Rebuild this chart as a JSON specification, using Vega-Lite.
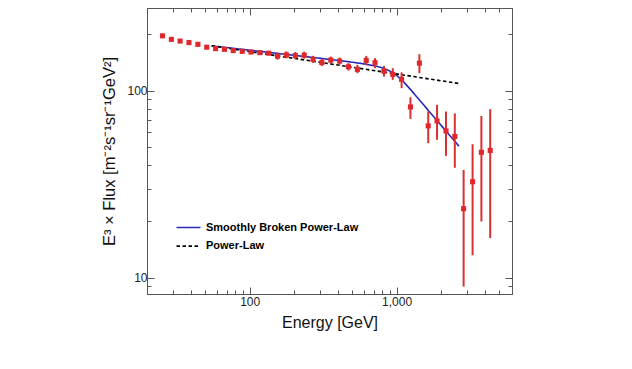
{
  "$schema": "https://vega.github.io/schema/vega-lite/v6.json",
  "width": 365,
  "height": 286,
  "autosize": "none",
  "padding": {"left": 147, "top": 8, "right": 120, "bottom": 75},
  "background": "white",
  "config": {
    "view": {"stroke": "#555555", "strokeWidth": 1},
    "font": "Liberation Sans",
    "axis": {"domainColor": "#555555", "tickColor": "#555555", "labelColor": "#222222", "titleColor": "#111111", "labelFont": "Liberation Sans", "titleFont": "Liberation Sans", "labelFontSize": 12, "titleFontSize": 16, "titleFontWeight": "normal", "grid": false, "labelOverlap": false, "labelBound": false, "labelFlush": false},
    "legend": {"padding": 0, "symbolType": "M-3,0H3", "symbolSize": 64, "symbolStrokeWidth": 1.6, "labelFontSize": 11, "labelFontWeight": "bold", "labelColor": "#000000", "labelFont": "Liberation Sans", "labelOffset": 12, "rowPadding": 6.6, "symbolFillColor": "transparent"}
  },
  "datasets": {
    "pts": [
      {"E": 25.5, "F": 196.0, "lo": 191.2, "hi": 200.9},
      {"E": 29.3, "F": 187.7, "lo": 183.1, "hi": 192.4},
      {"E": 33.6, "F": 183.8, "lo": 179.3, "hi": 188.4},
      {"E": 38.6, "F": 180.4, "lo": 176.0, "hi": 184.9},
      {"E": 44.4, "F": 176.5, "lo": 172.2, "hi": 180.9},
      {"E": 51.0, "F": 170.5, "lo": 166.3, "hi": 174.8},
      {"E": 58.6, "F": 167.6, "lo": 163.5, "hi": 171.8},
      {"E": 67.3, "F": 166.0, "lo": 162.0, "hi": 170.2},
      {"E": 77.3, "F": 163.5, "lo": 159.5, "hi": 167.6},
      {"E": 88.9, "F": 162.0, "lo": 158.0, "hi": 166.0},
      {"E": 102.1, "F": 160.6, "lo": 156.7, "hi": 164.6},
      {"E": 117.3, "F": 159.4, "lo": 155.5, "hi": 163.4},
      {"E": 134.8, "F": 158.4, "lo": 154.5, "hi": 162.4},
      {"E": 154.8, "F": 152.6, "lo": 146.2, "hi": 159.3},
      {"E": 177.8, "F": 155.1, "lo": 148.6, "hi": 161.9},
      {"E": 204.4, "F": 153.8, "lo": 147.3, "hi": 160.6},
      {"E": 234.9, "F": 154.5, "lo": 148.0, "hi": 161.3},
      {"E": 269.8, "F": 146.8, "lo": 140.6, "hi": 153.3},
      {"E": 309.7, "F": 141.1, "lo": 135.1, "hi": 147.3},
      {"E": 356.4, "F": 145.5, "lo": 139.4, "hi": 151.9},
      {"E": 409.3, "F": 143.7, "lo": 137.6, "hi": 150.0},
      {"E": 469.9, "F": 134.1, "lo": 127.9, "hi": 140.1},
      {"E": 540.8, "F": 129.8, "lo": 123.8, "hi": 137.2},
      {"E": 620.9, "F": 144.9, "lo": 137.2, "hi": 153.2},
      {"E": 712.8, "F": 140.9, "lo": 131.7, "hi": 148.9},
      {"E": 820.4, "F": 126.9, "lo": 118.8, "hi": 135.5},
      {"E": 941.9, "F": 122.0, "lo": 114.1, "hi": 131.7},
      {"E": 1081, "F": 114.8, "lo": 103.0, "hi": 125.1},
      {"E": 1242, "F": 81.8, "lo": 70.6, "hi": 92.2},
      {"E": 1429, "F": 140.1, "lo": 123.8, "hi": 156.4},
      {"E": 1641, "F": 64.8, "lo": 52.4, "hi": 77.3},
      {"E": 1884, "F": 68.9, "lo": 54.6, "hi": 83.9},
      {"E": 2168, "F": 60.9, "lo": 44.8, "hi": 77.3},
      {"E": 2489, "F": 56.9, "lo": 38.7, "hi": 75.5},
      {"E": 2858, "F": 23.4, "lo": 8.98, "hi": 37.7},
      {"E": 3289, "F": 32.6, "lo": 13.2, "hi": 51.7},
      {"E": 3776, "F": 46.8, "lo": 20.0, "hi": 73.2},
      {"E": 4335, "F": 47.9, "lo": 16.3, "hi": 79.6}
    ],
    "fits": [
      {"s": "Smoothly Broken Power-Law", "E": 55.1, "F": 173.3},
      {"s": "Smoothly Broken Power-Law", "E": 79.4, "F": 167.7},
      {"s": "Smoothly Broken Power-Law", "E": 125.9, "F": 160.9},
      {"s": "Smoothly Broken Power-Law", "E": 199.5, "F": 154.3},
      {"s": "Smoothly Broken Power-Law", "E": 316.2, "F": 148.1},
      {"s": "Smoothly Broken Power-Law", "E": 446.7, "F": 143.3},
      {"s": "Smoothly Broken Power-Law", "E": 562.3, "F": 139.9},
      {"s": "Smoothly Broken Power-Law", "E": 707.9, "F": 135.6},
      {"s": "Smoothly Broken Power-Law", "E": 794.3, "F": 132.4},
      {"s": "Smoothly Broken Power-Law", "E": 891.3, "F": 127.6},
      {"s": "Smoothly Broken Power-Law", "E": 1000, "F": 120.6},
      {"s": "Smoothly Broken Power-Law", "E": 1122, "F": 110.8},
      {"s": "Smoothly Broken Power-Law", "E": 1259, "F": 100.2},
      {"s": "Smoothly Broken Power-Law", "E": 1413, "F": 90.1},
      {"s": "Smoothly Broken Power-Law", "E": 1585, "F": 81.0},
      {"s": "Smoothly Broken Power-Law", "E": 1995, "F": 65.6},
      {"s": "Smoothly Broken Power-Law", "E": 2653, "F": 50.5},
      {"s": "Power-Law", "E": 55.1, "F": 173.3},
      {"s": "Power-Law", "E": 2683, "F": 109.0}
    ]
  },
  "layer": [
    {
      "data": {"name": "fits"},
      "mark": {"type": "line", "strokeWidth": 1.6},
      "encoding": {
        "x": {"field": "E", "type": "quantitative", "scale": {"type": "log", "domain": [20, 6100], "nice": false},
          "axis": {"orient": "top", "labels": false, "title": null, "values": [30,40,50,60,70,80,90,100,200,300,400,500,600,700,800,900,1000,2000,3000,4000,5000], "tickSize": {"condition": {"test": "datum.value == 100 || datum.value == 1000", "value": -7}, "value": -4}}},
        "y": {"field": "F", "type": "quantitative", "scale": {"type": "log", "domain": [8.2, 276], "nice": false},
          "axis": {"orient": "right", "labels": false, "title": null, "values": [9,10,20,30,40,50,60,70,80,90,100,200], "tickSize": {"condition": {"test": "datum.value == 10 || datum.value == 100", "value": -7}, "value": -4}}},
        "color": {"field": "s", "type": "nominal", "scale": {"domain": ["Smoothly Broken Power-Law", "Power-Law"], "range": ["#2a2ab8", "#000000"]}, "legend": {"orient": "none", "legendX": 36, "legendY": 214, "title": null}},
        "strokeDash": {"field": "s", "type": "nominal", "scale": {"domain": ["Smoothly Broken Power-Law", "Power-Law"], "range": [[1, 0], [3.5, 2.5]]}, "legend": {"orient": "none", "legendX": 36, "legendY": 214, "title": null}}
      }
    },
    {
      "data": {"name": "pts"},
      "mark": {"type": "rule", "color": "#d9312f", "strokeWidth": 2},
      "encoding": {
        "x": {"field": "E", "type": "quantitative", "scale": {"type": "log", "domain": [20, 6100], "nice": false},
          "axis": {"orient": "bottom", "title": "Energy [GeV]", "values": [30,40,50,60,70,80,90,100,200,300,400,500,600,700,800,900,1000,2000,3000,4000,5000], "labelExpr": "datum.value == 100 ? '100' : (datum.value == 1000 ? '1,000' : '')", "tickSize": {"condition": {"test": "datum.value == 100 || datum.value == 1000", "value": -7}, "value": -4}, "labelPadding": 9, "titlePadding": 4}},
        "y": {"field": "lo", "type": "quantitative", "scale": {"type": "log", "domain": [8.2, 276], "nice": false},
          "axis": {"orient": "left", "title": "E³ × Flux [m⁻²s⁻¹sr⁻¹GeV²]", "titleFontSize": 16.5, "values": [9,10,20,30,40,50,60,70,80,90,100,200], "labelExpr": "datum.value == 10 ? '10' : (datum.value == 100 ? '100' : '')", "tickSize": {"condition": {"test": "datum.value == 10 || datum.value == 100", "value": -7}, "value": -4}, "labelPadding": 7, "titlePadding": 9}},
        "y2": {"field": "hi"}
      }
    },
    {
      "data": {"name": "pts"},
      "mark": {"type": "point", "shape": "square", "filled": true, "size": 26, "color": "#e0282c", "opacity": 1},
      "encoding": {
        "x": {"field": "E", "type": "quantitative", "axis": null},
        "y": {"field": "F", "type": "quantitative", "axis": null}
      }
    }
  ],
  "resolve": {"axis": {"x": "independent", "y": "independent"}}
}
